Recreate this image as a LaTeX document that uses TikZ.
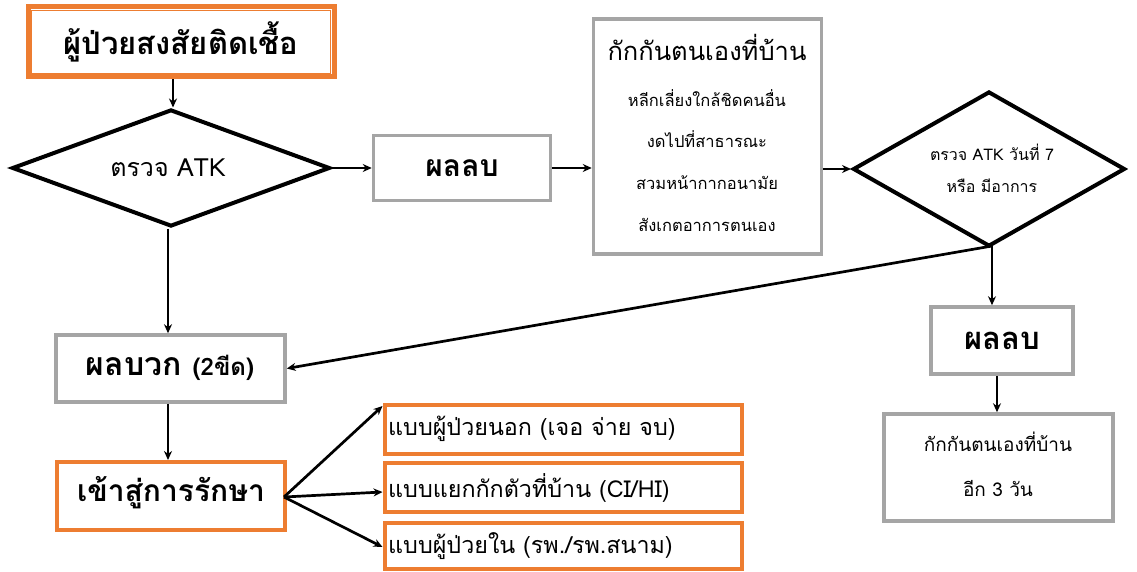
\documentclass[tikz,border=0pt]{standalone}
\usepackage{fontspec}
\newfontfamily\thai[Script=Thai]{Loma}
\usetikzlibrary{shapes.geometric,arrows.meta,calc}
\definecolor{org}{HTML}{ED7D31}
\definecolor{gry}{HTML}{A5A5A5}
\begin{document}
\begin{tikzpicture}[x=1pt,y=-1pt, font=\thai,
 gbox/.style={draw=gry, line width=3.5pt, fill=white, inner sep=0pt},
 obox/.style={draw=org, line width=4pt, fill=white, inner sep=0pt},
 dia/.style={diamond, draw=black, line width=4pt, inner sep=0pt},
 txt/.style={inner sep=0pt, anchor=center},
 arr/.style={-{Stealth[length=9pt,width=8pt]}, line width=2.7pt}]
\useasboundingbox (0,0) rectangle (1137,572);
% top box
\node[draw=org, line width=5pt, minimum width=306pt, minimum height=70pt, inner sep=0pt] (start) at (181,42) {};
\draw[org, line width=1.2pt] ($(start.north west)+(6,6)$) rectangle ($(start.south east)+(-6,-6)$);
\node[txt, font=\thai\bfseries\fontsize{31}{36}\selectfont] (startt) at (181,42) {ผู้ป่วยสงสัยติดเชื้อ};
% diamond 1
\node[dia, minimum width=318pt, minimum height=117pt] (d1) at (171,168) {};
\node[txt, font=\thai\fontsize{25}{28}\selectfont] (d1t) at (168,168) {ตรวจ ATK};
% neg box 1
\node[gbox, minimum width=177pt, minimum height=65pt, font=\thai\bfseries\fontsize{30}{36}\selectfont] (neg1) at (462,168) {ผลลบ};
% quarantine box
\node[gbox, minimum width=228pt, minimum height=235pt] (q) at (707.5,136.5) {};
\node[txt, font=\thai\fontsize{25.5}{28}\selectfont] (q0) at (707,47) {กักกันตนเองที่บ้าน};
\node[txt, font=\thai\fontsize{16.5}{18}\selectfont] (q1) at (707,98) {หลีกเลี่ยงใกล้ชิดคนอื่น};
\node[txt, font=\thai\fontsize{16.5}{18}\selectfont] (q2) at (707,139) {งดไปที่สาธารณะ};
\node[txt, font=\thai\fontsize{16.5}{18}\selectfont] (q3) at (707,183) {สวมหน้ากากอนามัย};
\node[txt, font=\thai\fontsize{16.5}{18}\selectfont] (q4) at (707,225) {สังเกตอาการตนเอง};
% diamond 2
\node[dia, minimum width=272pt, minimum height=155pt] (d2) at (989,169) {};
\node[txt, font=\thai\fontsize{16}{18}\selectfont] (d2a) at (992,152) {ตรวจ ATK วันที่ 7};
\node[txt, font=\thai\fontsize{16}{18}\selectfont] (d2b) at (992,186) {หรือ มีอาการ};
% neg box 2
\node[gbox, minimum width=142pt, minimum height=67pt, font=\thai\bfseries\fontsize{31}{36}\selectfont] (neg2) at (1002,340.5) {ผลลบ};
% 3 more days
\node[gbox, minimum width=229pt, minimum height=107pt] (q3d) at (998.5,467.5) {};
\node[txt, font=\thai\fontsize{19}{24}\selectfont] (q3a) at (998,442) {กักกันตนเองที่บ้าน};
\node[txt, font=\thai\fontsize{19}{24}\selectfont] (q3b) at (998,488) {อีก 3 วัน};
% positive
\node[gbox, minimum width=229pt, minimum height=67pt] (pos) at (170.5,368.5) {};
\node[txt, font=\thai\bfseries\fontsize{32}{36}\selectfont] (post) at (170,368) {ผลบวก {\fontsize{24}{28}\selectfont (2ขีด)}};
% treatment
\node[obox, minimum width=228pt, minimum height=68pt] (tr) at (171,496) {};
\node[txt, font=\thai\bfseries\fontsize{30}{34}\selectfont] (trt) at (171,493) {เข้าสู่การรักษา};
% options
\node[obox, minimum width=357pt, minimum height=49pt] (o1) at (563,429) {};
\node[obox, minimum width=357pt, minimum height=49pt] (o2) at (563,487) {};
\node[obox, minimum width=357pt, minimum height=46pt] (o3) at (563,545.5) {};
\node[inner sep=0pt, anchor=west, font=\thai\fontsize{23.3}{26}\selectfont] (o1t) at (388,429) {แบบผู้ป่วยนอก (เจอ จ่าย จบ)};
\node[inner sep=0pt, anchor=west, font=\thai\fontsize{23.3}{26}\selectfont] (o2t) at (388,488) {แบบแยกกักตัวที่บ้าน (CI/HI)};
\node[inner sep=0pt, anchor=west, font=\thai\fontsize{23.3}{26}\selectfont] (o3t) at (388,546) {แบบผู้ป่วยใน (รพ./รพ.สนาม)};
% coordinates
\coordinate (trR) at (284,497);
\coordinate (d2B) at (992,246);
% connectors
\draw[arr] (start.south -| 173,0) -- (d1.north -| 173,0);
\draw[arr] (d1.east) -- (neg1.west);
\draw[arr] (neg1.east) -- (q.west |- neg1.east);
\draw[arr] (q.east |- d2.west) -- (d2.west);
\draw[arr] (d1.south -| 168,0) -- (pos.north -| 168,0);
\draw[arr] (pos.south -| 168,0) -- (tr.north -| 168,0);
\draw[arr] (d2B) -- (neg2.north -| d2B);
\draw[arr] (d2B) -- (pos.east);
\draw[arr] (neg2.south -| 997,0) -- (q3d.north -| 997,0);
\draw[arr] (trR) -- (o1.west |- 0,406);
\draw[arr] (trR) -- (o2.west |- 0,492);
\draw[arr] (trR) -- (o3.west |- 0,547);
\end{tikzpicture}
\end{document}
